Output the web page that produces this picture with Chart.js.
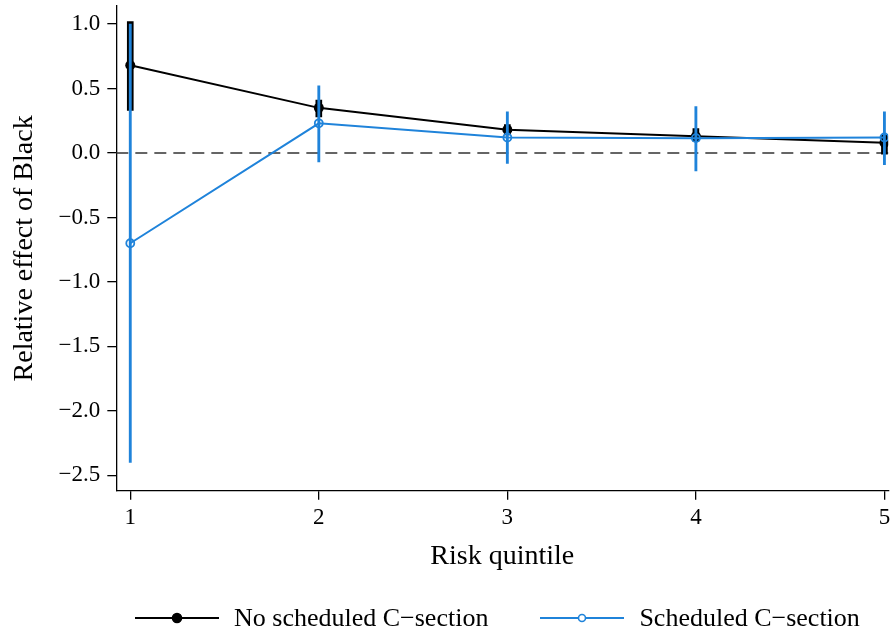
<!DOCTYPE html>
<html>
<head>
<meta charset="utf-8">
<title>Relative effect of Black by risk quintile</title>
<script src="https://cdn.jsdelivr.net/npm/chart.js@4.4.1/dist/chart.umd.min.js"></script>
<style>
  html, body { margin: 0; padding: 0; background: #fff; }
  #wrap { width: 894px; height: 633px; position: relative; }
  #legend {
    position: absolute; left: 135px; top: 603px;
    display: flex; align-items: center;
    font-family: "Liberation Serif", "Times New Roman", serif; font-size: 26px; color: #000;
  }
  #legend .item { display: flex; align-items: center; }
  #legend .item + .item { margin-left: 52px; }
  #legend canvas { margin-right: 15px; }
</style>
</head>
<body>
<div id="wrap">
  <canvas id="chart"></canvas>
  <div id="legend"></div>
</div>
<script>
// risk quintiles and estimates with confidence intervals
const quintiles = [1, 2, 3, 4, 5];
const xTicks = [1, 2, 3, 4, 5];
const yTicks = [-2.5, -2.0, -1.5, -1.0, -0.5, 0.0, 0.5, 1.0];

const noSched = [0.68, 0.35, 0.18, 0.13, 0.08];
const noSchedLo = [0.33, 0.28, 0.14, 0.09, -0.01];
const noSchedHi = [1.02, 0.41, 0.22, 0.19, 0.14];

const sched = [-0.70, 0.23, 0.12, 0.115, 0.12];
const schedLo = [-2.40, -0.07, -0.08, -0.14, -0.09];
const schedHi = [1.00, 0.52, 0.32, 0.36, 0.32];

const BLUE = '#1f83da';
const FONT = '"Liberation Serif", "Times New Roman", serif';

// line-with-marker swatch for the legend
function legendIcon(color, filled) {
  const c = document.createElement('canvas');
  c.width = 84;
  c.height = 14;
  const g = c.getContext('2d');
  g.strokeStyle = color;
  g.lineWidth = 2;
  g.beginPath();
  g.moveTo(0, 7);
  g.lineTo(84, 7);
  g.stroke();
  g.beginPath();
  g.arc(42, 7, filled ? 4.5 : 3.5, 0, Math.PI * 2);
  g.fillStyle = filled ? color : '#fff';
  g.fill();
  g.lineWidth = 1.6;
  g.stroke();
  return c;
}

const legendItems = [
  { text: 'No scheduled C\u2212section', color: '#000', filled: true },
  { text: 'Scheduled C\u2212section', color: BLUE, filled: false }
];
const legendEl = document.getElementById('legend');
legendItems.forEach((it) => {
  const item = document.createElement('div');
  item.className = 'item';
  item.appendChild(legendIcon(it.color, it.filled));
  const span = document.createElement('span');
  span.textContent = it.text;
  item.appendChild(span);
  legendEl.appendChild(item);
});

// dashed reference line at zero
const zeroLine = {
  id: 'zeroLine',
  beforeDatasetsDraw(chart) {
    const { ctx, chartArea, scales } = chart;
    const y = scales.y.getPixelForValue(0);
    ctx.save();
    ctx.strokeStyle = '#333';
    ctx.lineWidth = 1.3;
    ctx.setLineDash([12, 7]);
    ctx.beginPath();
    ctx.moveTo(chartArea.left, y);
    ctx.lineTo(chartArea.right, y);
    ctx.stroke();
    ctx.restore();
  }
};

const pts = (vals) => quintiles.map((q, i) => ({ x: q, y: vals[i] }));
const ci = (lo, hi) => quintiles.map((q, i) => ({ x: q, y: [lo[i], hi[i]] }));

new Chart(document.getElementById('chart'), {
  type: 'line',
  data: {
    datasets: [
      {
        type: 'bar',
        label: 'ci-no',
        data: ci(noSchedLo, noSchedHi),
        backgroundColor: '#000',
        borderWidth: 0,
        barThickness: 6,
        grouped: false,
        order: 4
      },
      {
        label: 'No scheduled C\u2212section',
        data: pts(noSched),
        borderColor: '#000',
        backgroundColor: '#000',
        borderWidth: 2,
        pointRadius: 5,
        pointBorderWidth: 0,
        tension: 0,
        order: 3
      },
      {
        type: 'bar',
        label: 'ci-sched',
        data: ci(schedLo, schedHi),
        backgroundColor: BLUE,
        borderWidth: 0,
        barThickness: 2.2,
        grouped: false,
        order: 2
      },
      {
        label: 'Scheduled C\u2212section',
        data: pts(sched),
        borderColor: BLUE,
        backgroundColor: 'rgba(0,0,0,0)',
        borderWidth: 2,
        pointRadius: 4,
        pointBorderWidth: 1.8,
        tension: 0,
        order: 1
      }
    ]
  },
  options: {
    responsive: true,
    maintainAspectRatio: false,
    animation: false,
    layout: { padding: { top: 6, left: 4, right: 0, bottom: 56 } },
    plugins: {
      tooltip: { enabled: false },
      legend: { display: false }
    },
    scales: {
      x: {
        type: 'linear',
        min: 0.926,
        max: 5.02,
        offset: false,
        afterBuildTicks: (axis) => { axis.ticks = xTicks.map((v) => ({ value: v })); },
        afterFit: (axis) => { axis.paddingLeft = 0; axis.paddingRight = 0; },
        grid: { offset: false, drawOnChartArea: false, drawTicks: true, tickLength: 9, color: '#000', lineWidth: 1.3 },
        border: { display: true, color: '#000', width: 1.3 },
        ticks: { color: '#000', font: { family: FONT, size: 23 }, padding: 4, maxRotation: 0, callback: (v) => String(v) },
        title: { display: true, text: 'Risk quintile', color: '#000', font: { family: FONT, size: 28 }, padding: { top: 4, bottom: 4 } }
      },
      y: {
        type: 'linear',
        min: -2.62,
        max: 1.14,
        afterBuildTicks: (axis) => { axis.ticks = yTicks.map((v) => ({ value: v })); },
        afterFit: (axis) => { axis.paddingTop = 0; axis.paddingBottom = 0; },
        grid: { drawOnChartArea: false, drawTicks: true, tickLength: 9, color: '#000', lineWidth: 1.3 },
        border: { display: true, color: '#000', width: 1.3 },
        ticks: {
          color: '#000',
          font: { family: FONT, size: 23 },
          padding: 7,
          callback: (v) => (v < 0 ? '\u2212' : '') + Math.abs(v).toFixed(1)
        },
        title: { display: true, text: 'Relative effect of Black', color: '#000', font: { family: FONT, size: 28 }, padding: { top: 4, bottom: 10 } }
      }
    }
  },
  plugins: [zeroLine]
});
</script>
</body>
</html>
